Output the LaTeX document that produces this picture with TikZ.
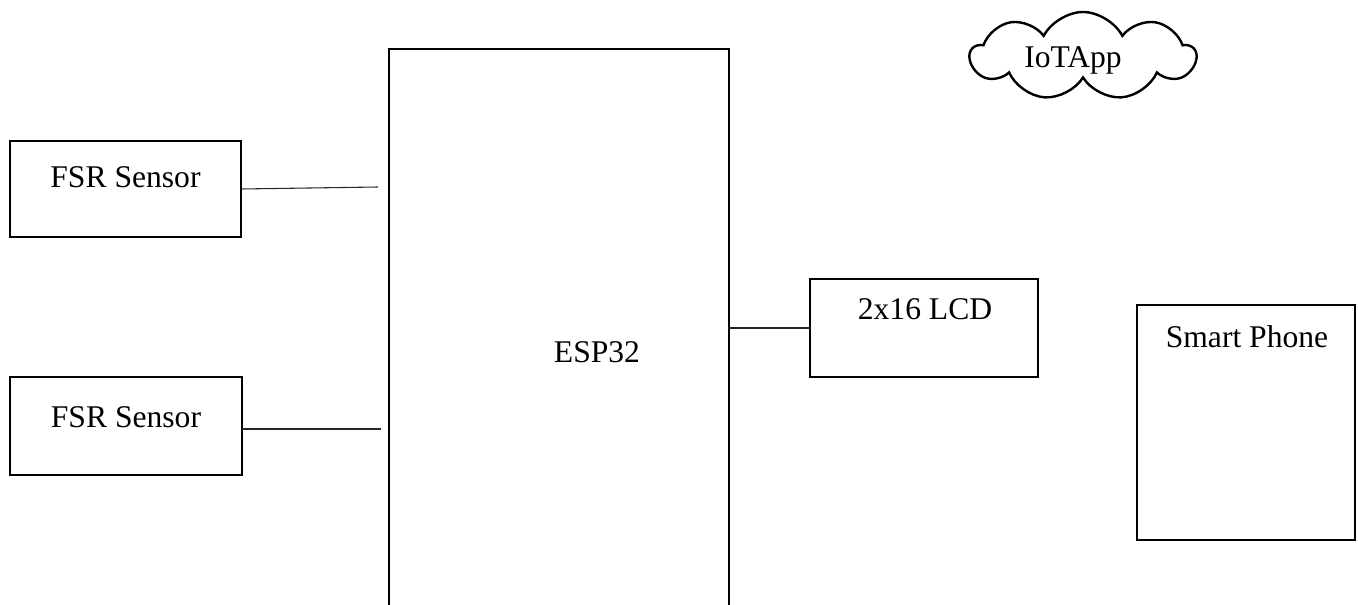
\documentclass[tikz,border=0pt]{standalone}
\usepackage{fontspec}
\setmainfont{Liberation Serif}
\usepackage{tikz}
\usetikzlibrary{shapes.symbols, positioning, calc}

\begin{document}
\begin{tikzpicture}[
  x = 0.75pt, y = -0.75pt,
  every node/.style = {font=\fontsize{23.7}{28}\selectfont},
  % node styles
  block/.style = {rectangle, draw=black, line width=1.8pt, inner sep=0pt,
                  outer sep=0pt},
  label/.style = {anchor=base, inner sep=0pt},
  netcloud/.style = {cloud, cloud puffs=9, cloud puff arc=125, aspect=2.6,
                  draw=black, line width=1.8pt, inner sep=0pt},
  % wire style
  wire/.style = {line width=0.8pt, color=black!85},
]
\useasboundingbox (0,0) rectangle (1358,605);

%% Controller (runs off the bottom edge)
\node[block, minimum width=255pt, minimum height=454.5pt] (esp) at (559,352) {};
\node[label] (esptxt) at (597,362.5) {ESP32};

%% Sensors on the left
\node[block, minimum width=173.25pt, minimum height=72pt] (fsr1) at (125.5,189) {};
\node[label] (fsr1txt) at (125.5,188) {FSR Sensor};
\node[block, minimum width=174pt, minimum height=73.5pt] (fsr2) at (126,426) {};
\node[label] (fsr2txt) at (126,427) {FSR Sensor};

%% Display and phone on the right
\node[block, minimum width=171pt, minimum height=73.5pt] (lcd) at (924,328) {};
\node[label] (lcdtxt) at (925,320) {2x16 LCD};
\node[block, minimum width=163.5pt, minimum height=176.25pt] (phone) at (1246,422.5) {};
\node[label] (phonetxt) at (1247,348) {Smart Phone};

%% Cloud app
\node[netcloud, minimum width=168.75pt, minimum height=66pt] (app) at (1083,56) {};
\node[label] (apptxt) at (1073,68) {IoTApp};

%% Wires (sensor wires stop short of the controller)
\coordinate (fsr1end) at (378,187);
\coordinate (fsr2end) at (381,429);
\draw[wire] (fsr1.east) -- (fsr1end);
\draw[wire] (fsr2end -| fsr2.east) -- (fsr2end);
\draw[wire] (lcd.west -| esp.east) -- (lcd.west);

\end{tikzpicture}
\end{document}
